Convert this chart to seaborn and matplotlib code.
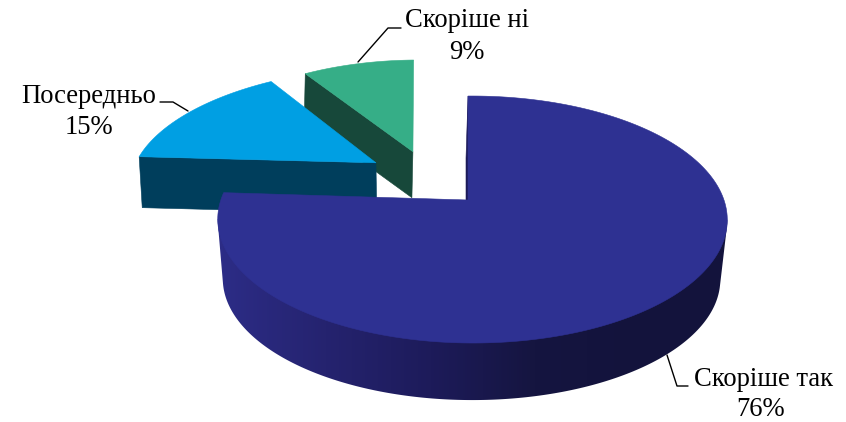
import numpy as np
import matplotlib
matplotlib.use("Agg")
import matplotlib.pyplot as plt
from matplotlib.patches import Polygon
import seaborn as sns

labels = ["Скоріше так", "Посередньо", "Скоріше ні"]
values = [76, 15, 9]

top_colors = ["#2E3192", "#009FE3", "#36AE87"]
wall_colors = ["#1C1A58", "#003E5C", "#17483A"]
main_wall_ramp = ["#2C2C86", "#25236F", "#1D1B5A", "#151540", "#13133C"]

# layout: pie plane seen in perspective, in pixels of the figure
explode_uv = [(0.0, 0.0), (-0.38, 0.327), (-0.23, 0.43)]
radius = [1.0, 1.015, 1.0]
top_plane = [
    dict(cx=468, cy=200, A=251.5, B=120.4, k=0.158, m=-0.0175, s=0),
    dict(cx=468, cy=200, A=256.4, B=120.4, k=0.158, m=-0.0175, s=0),
    dict(cx=469, cy=200, A=246.4, B=120.4, k=0.158, m=-0.0175, s=-8),
]
low_plane = [
    dict(cx=466, cy=260, A=245.5, B=117.9, k=0.158, m=-0.022, s=0),
    dict(cx=468, cy=251, A=254.0, B=120.4, k=0.158, m=-0.0175, s=0),
    dict(cx=468, cy=246, A=246.4, B=120.4, k=0.158, m=-0.0175, s=-8),
]

sns.set_theme(style="white")
plt.rcParams["font.family"] = ["Liberation Serif", "DejaVu Serif"]

fig = plt.figure(figsize=(8.46, 4.22), dpi=100, facecolor="white")
ax = fig.add_axes([0, 0, 1, 1])
ax.set_xlim(0, 846)
ax.set_ylim(422, 0)
ax.axis("off")


def project(u, v, p):
    w = 1 + p["k"] * v + p["m"] * u
    return p["cx"] + (p["A"] * u + p["s"] * v) / w, p["cy"] - p["B"] * v / w


def rim(theta, i, plane):
    t = np.radians(theta)
    r = radius[i]
    return project(explode_uv[i][0] + r * np.sin(t), explode_uv[i][1] + r * np.cos(t), plane)


def apex(i, plane):
    return project(explode_uv[i][0], explode_uv[i][1], plane)


def radial_wall(i, theta, z):
    a1, r1 = apex(i, top_plane[i]), rim(theta, i, top_plane[i])
    a2, r2 = apex(i, low_plane[i]), rim(theta, i, low_plane[i])
    xs, ys = zip(a1, r1, r2, a2)
    ax.fill(xs, ys, color=wall_colors[i], lw=0.4, zorder=z)


def top_face(i, t0, t1, z):
    th = np.linspace(t0, t1, 240)
    pts = [apex(i, top_plane[i])] + [rim(t, i, top_plane[i]) for t in th]
    xs, ys = zip(*pts)
    ax.fill(xs, ys, color=top_colors[i], lw=0.4, zorder=z)


def convex_hull(points):
    pts = sorted(set(points))

    def half(seq):
        out = []
        for p in seq:
            while len(out) > 1 and (
                (out[-1][0] - out[-2][0]) * (p[1] - out[-2][1])
                - (out[-1][1] - out[-2][1]) * (p[0] - out[-2][0])
            ) <= 0:
                out.pop()
            out.append(p)
        return out[:-1]

    return half(pts) + half(pts[::-1])


edges = np.concatenate([[0], np.cumsum(values)]) * 360 / sum(values)

# green wedge, blue wedge, then the big one in front
radial_wall(2, edges[2], 1)
top_face(2, edges[2], edges[3], 2)
radial_wall(1, edges[1], 3)
top_face(1, edges[1], edges[2], 4)

radial_wall(0, edges[0], 5)

# outer wall of the big wedge: a horizontal colour ramp clipped to its outline
th = np.linspace(99, 261, 400)
upper = [rim(t, 0, top_plane[0]) for t in th]
lower = [rim(t, 0, low_plane[0]) for t in th]
ramp = sns.blend_palette(main_wall_ramp, as_cmap=True)
ramp_x = np.linspace(200, 740, 540)
img = ax.imshow(
    np.clip((ramp_x - 221) / (640 - 221), 0, 1)[None, :],
    cmap=ramp,
    extent=(200, 740, 422, 0),
    aspect="auto",
    zorder=6,
    vmin=0,
    vmax=1,
)
outline = Polygon(convex_hull(upper + lower), closed=True, transform=ax.transData, fc="none", ec="none")
ax.add_patch(outline)
img.set_clip_path(outline)
ax.set_xlim(0, 846)
ax.set_ylim(422, 0)

top_face(0, edges[0], edges[1], 7)

# leader lines
leaders = [
    ([667, 677, 688], [355, 386, 386]),
    ([160, 173, 188], [102, 102, 111]),
    ([358, 388, 401], [62, 28, 28]),
]
for lx, ly in leaders:
    ax.plot(lx, ly, color="black", lw=1.0, zorder=8)

# label anchors: name centre x, name baseline, value centre x, value baseline
label_pos = [(763, 386, 761, 416), (89, 103, 89, 134), (467, 27, 467, 59)]
for (x1, y1, x2, y2), name, val in zip(label_pos, labels, values):
    ax.text(x1, y1, name, ha="center", va="baseline", fontsize=19.2, color="black", zorder=9)
    ax.text(x2, y2, f"{val}%", ha="center", va="baseline", fontsize=19.2, color="black", zorder=9)

fig.savefig("out.png", dpi=100, facecolor="white")
